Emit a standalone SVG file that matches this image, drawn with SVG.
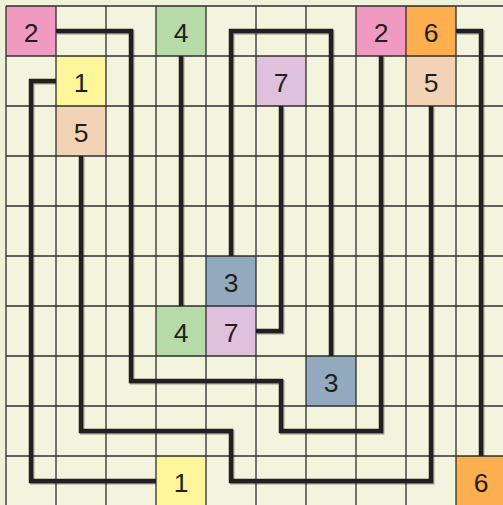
<svg xmlns="http://www.w3.org/2000/svg" width="503" height="505" viewBox="0 0 503 505">
<style>
.bg{fill:#eef2d8}
.board{fill:#f2f4de}
.grid{fill:none;stroke:#2e2e2e;stroke-width:1.3}
.p{fill:none;stroke:#231f20;stroke-width:4.5;stroke-linejoin:miter;stroke-linecap:butt}
.s{fill:none;stroke:#9a9a90;stroke-width:4.5;stroke-linejoin:miter;stroke-linecap:butt}
.t{font-family:"Liberation Sans",Arial,sans-serif;font-size:26.5px;fill:#231f20;text-anchor:middle}
.pink{fill:#f09ac1}.green{fill:#b6dba9}.yellow{fill:#fff59b}.lilac{fill:#dfc1dd}.peach{fill:#f3d3b6}.orange{fill:#fdae4f}.blue{fill:#93aabe}
</style>
<rect class="bg" x="0" y="0" width="503" height="505"/>
<rect class="board" x="6" y="6" width="500" height="500"/>
<g id="connectors">
<g transform="translate(1.2,1.2)">
<path class="s" d="M56 31H131V381H281V431H381V56"/>
<path class="s" d="M181 56V306"/>
<path class="s" d="M231 256V31H331V356"/>
<path class="s" d="M281 106V331H256"/>
<path class="s" d="M56 81H31V481H156"/>
<path class="s" d="M81 156V431H231V481H431V106"/>
<path class="s" d="M456 31H481V456"/>
</g>
</g>
<g id="cells">
<g id="n2a"><rect class="pink" x="6" y="6" width="50" height="50"/></g>
<g id="n4a"><rect class="green" x="156" y="6" width="50" height="50"/></g>
<g id="n2b"><rect class="pink" x="356" y="6" width="50" height="50"/></g>
<g id="n6a"><rect class="orange" x="406" y="6" width="50" height="50"/></g>
<g id="n1a"><rect class="yellow" x="56" y="56" width="50" height="50"/></g>
<g id="n7a"><rect class="lilac" x="256" y="56" width="50" height="50"/></g>
<g id="n5a"><rect class="peach" x="406" y="56" width="50" height="50"/></g>
<g id="n5b"><rect class="peach" x="56" y="106" width="50" height="50"/></g>
<g id="n3a"><rect class="blue" x="206" y="256" width="50" height="50"/></g>
<g id="n4b"><rect class="green" x="156" y="306" width="50" height="50"/></g>
<g id="n7b"><rect class="lilac" x="206" y="306" width="50" height="50"/></g>
<g id="n3b"><rect class="blue" x="306" y="356" width="50" height="50"/></g>
<g id="n1b"><rect class="yellow" x="156" y="456" width="50" height="50"/></g>
<g id="n6b"><rect class="orange" x="456" y="456" width="50" height="50"/></g>
</g>
<path class="grid" d="M6 6V506M56 6V506M106 6V506M156 6V506M206 6V506M256 6V506M306 6V506M356 6V506M406 6V506M456 6V506M6 6H506M6 56H506M6 106H506M6 156H506M6 206H506M6 256H506M6 306H506M6 356H506M6 406H506M6 456H506"/>
<g id="paths">
<path class="p" d="M56 31H131V381H281V431H381V56"/>
<path class="p" d="M181 56V306"/>
<path class="p" d="M231 256V31H331V356"/>
<path class="p" d="M281 106V331H256"/>
<path class="p" d="M56 81H31V481H156"/>
<path class="p" d="M81 156V431H231V481H431V106"/>
<path class="p" d="M456 31H481V456"/>
</g>
<g id="labels">
<text class="t" x="31" y="42">2</text>
<text class="t" x="181" y="42">4</text>
<text class="t" x="381" y="42">2</text>
<text class="t" x="431" y="42">6</text>
<text class="t" x="81" y="92">1</text>
<text class="t" x="281" y="92">7</text>
<text class="t" x="431" y="92">5</text>
<text class="t" x="81" y="142">5</text>
<text class="t" x="231" y="292">3</text>
<text class="t" x="181" y="342">4</text>
<text class="t" x="231" y="342">7</text>
<text class="t" x="331" y="392">3</text>
<text class="t" x="181" y="492">1</text>
<text class="t" x="481" y="492">6</text>
</g>
</svg>
